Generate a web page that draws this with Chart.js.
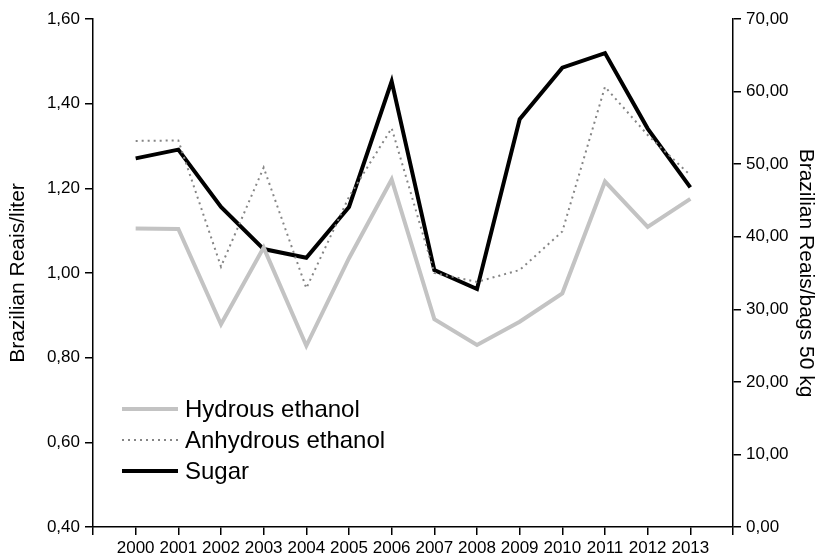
<!DOCTYPE html>
<html>
<head>
<meta charset="utf-8">
<script src="https://cdn.jsdelivr.net/npm/chart.js@4"></script>
<style>
  html, body { margin: 0; padding: 0; background: #fff; }
  canvas { display: block; }
</style>
</head>
<body>
<canvas id="priceChart" width="822" height="556"></canvas>
<script>
// values
const years = [2000, 2001, 2002, 2003, 2004, 2005, 2006, 2007, 2008, 2009, 2010, 2011, 2012, 2013];
const hydrousEthanol = [1.105, 1.104, 0.879, 1.060, 0.828, 1.035, 1.221, 0.891, 0.830, 0.885, 0.952, 1.216, 1.109, 1.175];
const anhydrousEthanol = [1.312, 1.313, 1.015, 1.249, 0.964, 1.180, 1.342, 1.000, 0.979, 1.007, 1.098, 1.440, 1.326, 1.231];
const sugar = [50.8, 52.0, 44.1, 38.3, 37.1, 44.1, 61.4, 35.4, 32.8, 56.2, 63.3, 65.3, 54.9, 46.8];
const seriesNames = ['Hydrous ethanol', 'Anhydrous ethanol', 'Sugar'];
const leftTitle = 'Brazilian Reais/liter';
const rightTitle = 'Brazilian Reais/bags 50 kg';

const FONT = '"Liberation Sans", Arial, Helvetica, sans-serif';
Chart.defaults.font.family = FONT;
Chart.defaults.color = '#000';

const toPoints = (vals) => years.map((yr, i) => ({ x: yr, y: vals[i] }));
const comma = (v) => Number(v).toFixed(2).replace('.', ',');

// legend drawn inside the plot, lower left
const insideLegend = {
    id: 'insideLegend',
    afterDraw(chart) {
        const ctx = chart.ctx;
        chart.data.datasets.forEach((ds, i) => {
            const y = 409 + i * 31;
            ctx.save();
            ctx.strokeStyle = ds.borderColor;
            ctx.lineWidth = ds.borderWidth;
            ctx.setLineDash(ds.borderDash || []);
            ctx.beginPath();
            ctx.moveTo(122, y);
            ctx.lineTo(178, y);
            ctx.stroke();
            ctx.setLineDash([]);
            ctx.fillStyle = '#000';
            ctx.font = '24px ' + FONT;
            ctx.textBaseline = 'alphabetic';
            ctx.fillText(ds.label, 185, y + 8);
            ctx.restore();
        });
    }
};

const axisLine = { display: true, color: '#000', width: 1.5 };
const tickGrid = { drawOnChartArea: false, drawTicks: true, tickLength: 8, color: '#000', lineWidth: 1.5 };

new Chart(document.getElementById('priceChart'), {
    type: 'line',
    data: {
        datasets: [{
            label: seriesNames[0],
            data: toPoints(hydrousEthanol),
            yAxisID: 'yLeft',
            borderColor: '#c3c3c3',
            borderWidth: 4,
            pointRadius: 0,
            tension: 0
        }, {
            label: seriesNames[1],
            data: toPoints(anhydrousEthanol),
            yAxisID: 'yLeft',
            borderColor: '#858585',
            borderWidth: 2,
            borderDash: [2, 4],
            pointRadius: 0,
            tension: 0
        }, {
            label: seriesNames[2],
            data: toPoints(sugar),
            yAxisID: 'yRight',
            borderColor: '#000',
            borderWidth: 4,
            pointRadius: 0,
            tension: 0
        }]
    },
    options: {
        responsive: false,
        animation: false,
        layout: { padding: { top: 19, left: 0, right: 0, bottom: 0 } },
        plugins: {
            legend: { display: false },
            tooltip: { enabled: false }
        },
        scales: {
            x: {
                type: 'linear',
                min: 1999,
                max: 2014,
                border: axisLine,
                grid: tickGrid,
                ticks: {
                    stepSize: 1,
                    padding: 3,
                    maxRotation: 0,
                    autoSkip: false,
                    font: { size: 17 },
                    callback: (v) => (v < years[0] || v > years[years.length - 1]) ? '' : String(v)
                },
                afterFit: (scale) => { scale.height = 29; }
            },
            yLeft: {
                position: 'left',
                min: 0.4,
                max: 1.6,
                border: axisLine,
                grid: tickGrid,
                ticks: { stepSize: 0.2, padding: 5, font: { size: 17 }, callback: comma },
                title: { display: true, text: leftTitle, font: { size: 21 }, padding: { top: 6, bottom: 0 } },
                afterFit: (scale) => { scale.width = 93; }
            },
            yRight: {
                position: 'right',
                min: 0,
                max: 70,
                border: axisLine,
                grid: tickGrid,
                ticks: { stepSize: 10, padding: 5, font: { size: 17 }, callback: comma },
                title: { display: true, text: rightTitle, font: { size: 21 }, padding: { top: 4, bottom: 0 } },
                afterFit: (scale) => { scale.width = 89; }
            }
        }
    },
    plugins: [insideLegend]
});
</script>
</body>
</html>
